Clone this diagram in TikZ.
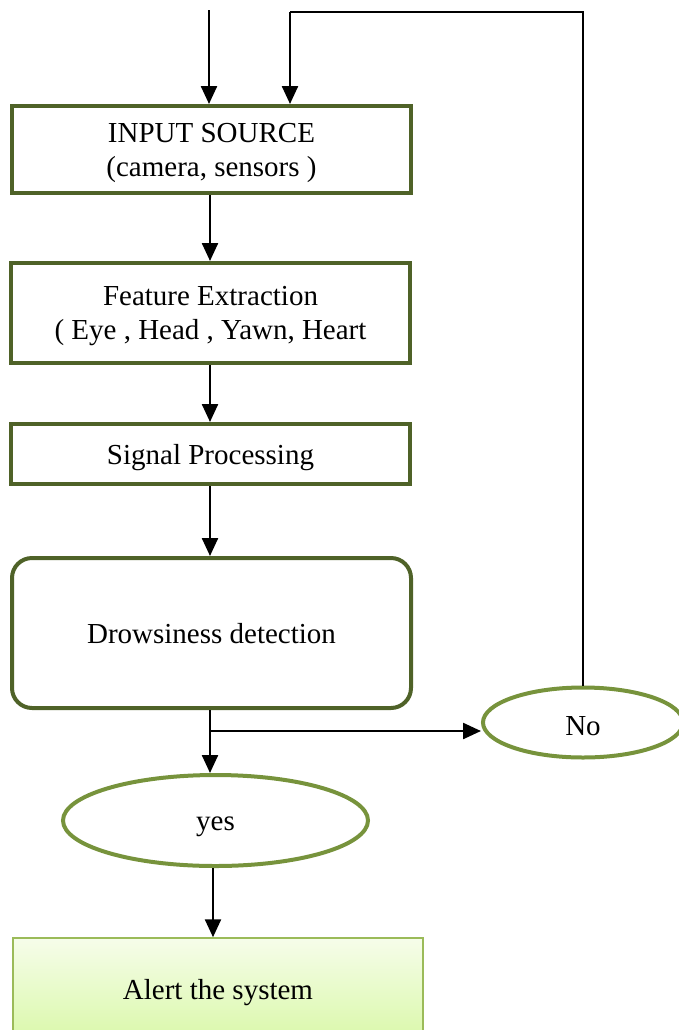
\documentclass[tikz,border=0pt]{standalone}
\usepackage{fontspec}
\setmainfont{Liberation Serif}
\usetikzlibrary{arrows.meta,shapes.geometric}
\definecolor{olivedark}{HTML}{4F6228}
\definecolor{olivemid}{HTML}{77933C}
\definecolor{olivelight}{HTML}{9BBB59}
\begin{document}
\begin{tikzpicture}[x=0.5pt,y=-0.5pt,
  font=\fontsize{14.5}{17}\selectfont,text depth=0pt,
  block/.style={draw=olivedark,line width=2pt,align=center,minimum width=199.5pt},
  decision/.style={ellipse,draw=olivemid,line width=2pt,inner sep=0pt},
  arr/.style={-{Triangle[width=8pt,length=9pt]},line width=1.2pt}]
  \useasboundingbox (0,0) rectangle (679,1030);
  \clip (0,0) rectangle (679,1030);
  % boxes
  \node[block,minimum height=43.5pt] (src) at (211.5,149.5) {INPUT SOURCE\\(camera, sensors )};
  \node[block,minimum height=50pt] (feat) at (210.5,313) {Feature Extraction\\( Eye , Head , Yawn, Heart};
  \node[block,minimum height=30pt] (sig) at (210.5,454) {Signal Processing};
  \node[block,rounded corners=10pt,minimum height=75pt] (drow) at (211.5,633) {Drowsiness detection};
  \node[decision,minimum width=100pt,minimum height=35pt] (no) at (583,722.5) {\raisebox{-3pt}{No}};
  \node[decision,minimum width=152.5pt,minimum height=45.5pt] (yes) at (215.5,820.5) {\raisebox{-3pt}{yes}};
  \node[draw=olivelight,line width=0.75pt,top color={rgb,255:red,246;green,253;blue,234},bottom color={rgb,255:red,218;green,248;blue,170},
        minimum width=205pt,minimum height=51pt] (alert) at (218,989) {Alert the system};
  % inputs on top
  \coordinate (in) at (209,10);
  \coordinate (fb) at (290,12);
  \draw[arr] (in) -- (in |- src.north);
  \draw[line width=0.75pt] (no.north) -- (no.north |- fb) -- (fb);
  \draw[arr] (fb) -- (fb |- src.north);
  % main flow
  \draw[arr] (src.south -| 210,0) -- (feat.north -| 210,0);
  \draw[arr] (feat.south -| 210,0) -- (sig.north -| 210,0);
  \draw[arr] (sig.south -| 210,0) -- (drow.north -| 210,0);
  \coordinate (split) at (210,731);
  \draw[arr] (split |- drow.south) -- (split |- yes.north);
  \draw[arr] (split) -- (split -| no.west);
  \draw[arr] (yes.south -| 213,0) -- (alert.north -| 213,0);
\end{tikzpicture}
\end{document}
